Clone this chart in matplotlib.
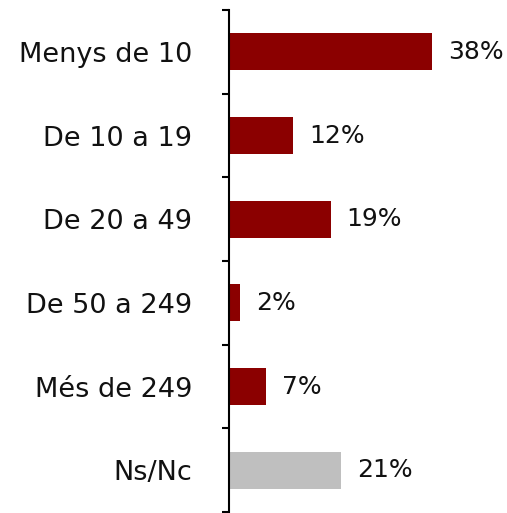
import matplotlib.pyplot as plt
import numpy as np

categories = ['Menys de 10', 'De 10 a 19', 'De 20 a 49', 'De 50 a 249', 'Més de 249', 'Ns/Nc']
values = [38, 12, 19, 2, 7, 21]
colors = ['#8B0000', '#8B0000', '#8B0000', '#8B0000', '#8B0000', '#BFBFBF']

fig = plt.figure(figsize=(5.07, 5.13), dpi=100)
ax = fig.add_axes([229/507, 1/513, 278/507, 502/513])

y = np.arange(len(categories))
ax.barh(y, values, height=0.44, color=colors)
ax.set_ylim(len(categories) - 0.5, -0.5)
ax.set_xlim(0, 52)

for yi, v in zip(y, values):
    ax.text(v + 3.0, yi, f'{v}%', va='center', ha='left', fontsize=18, color='#111111')

# category labels centred, ticks at the boundaries
ax.set_yticks(y)
ax.set_yticklabels(categories, fontsize=19.5, color='#111111')
ax.tick_params(axis='y', which='major', length=0, pad=26.5)
ax.set_yticks(np.arange(-0.5, len(categories)), minor=True)
ax.tick_params(axis='y', which='minor', length=5, width=1.5, direction='out')

ax.set_xticks([])
for s in ['top', 'right', 'bottom']:
    ax.spines[s].set_visible(False)
ax.spines['left'].set_linewidth(1.5)

fig.savefig('out.png', dpi=100)
